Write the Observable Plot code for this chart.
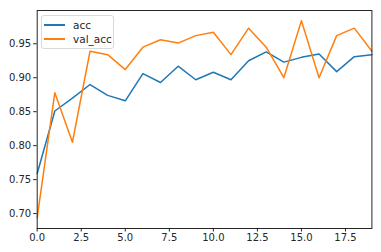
<!DOCTYPE html>
<html>
<head>
<meta charset="utf-8">
<script src="https://cdn.jsdelivr.net/npm/d3@7"></script>
<script src="https://cdn.jsdelivr.net/npm/@observablehq/plot@0.6"></script>
<style>
  html, body { margin: 0; padding: 0; background: #fff; }
  #wrap { position: relative; width: 381px; height: 252px; }
  #legend {
    position: absolute; left: 41px; top: 15px; width: 71px; height: 32px;
    border: 1px solid #d9d9d9; border-radius: 3px; background: rgba(255,255,255,0.8);
    font-family: "DejaVu Sans", sans-serif; font-size: 10.5px; color: #262626;
  }
  .item { position: absolute; left: 2px; height: 12px; display: flex; align-items: center; }
  .sw { display: inline-block; width: 21px; height: 2px; margin-right: 8px; }
</style>
</head>
<body>
<div id="wrap">
  <div id="chart"></div>
  <div id="legend"></div>
</div>
<script>
const epochs = [0,1,2,3,4,5,6,7,8,9,10,11,12,13,14,15,16,17,18,19];
const acc = [0.759,0.851,0.870,0.890,0.874,0.866,0.906,0.893,0.917,0.897,0.908,0.897,0.925,0.938,0.923,0.930,0.935,0.909,0.931,0.934];
const valAcc = [0.694,0.878,0.805,0.939,0.934,0.912,0.945,0.956,0.951,0.962,0.967,0.934,0.973,0.945,0.900,0.984,0.900,0.962,0.973,0.939];
const seriesNames = ["acc", "val_acc"];
const seriesColors = ["#1f77b4", "#ff7f0e"];
const xTicks = [0, 2.5, 5, 7.5, 10, 12.5, 15, 17.5];
const yTicks = [0.70, 0.75, 0.80, 0.85, 0.90, 0.95];

const rows = [];
epochs.forEach((e, i) => {
  rows.push({epoch: e, value: acc[i], series: seriesNames[0]});
});
epochs.forEach((e, i) => {
  rows.push({epoch: e, value: valAcc[i], series: seriesNames[1]});
});

const plot = Plot.plot({
  width: 381,
  height: 252,
  marginLeft: 36.7,
  marginRight: 9.6,
  marginTop: 10,
  marginBottom: 24,
  style: {fontFamily: "DejaVu Sans, sans-serif", fontSize: "10px", color: "#262626", background: "#fff"},
  x: {domain: [0, 19]},
  y: {domain: [0.678, 0.999]},
  color: {domain: seriesNames, range: seriesColors},
  marks: [
    Plot.line(rows, {x: "epoch", y: "value", stroke: "series", strokeWidth: 1.5, z: "series"}),
    Plot.frame({stroke: "#262626", strokeWidth: 1}),
    Plot.axisX({ticks: xTicks, tickFormat: d3.format(".1f"), tickSize: 3.5, tickPadding: 2, label: null, stroke: "#262626", fill: "#262626"}),
    Plot.axisY({ticks: yTicks, tickFormat: d3.format(".2f"), tickSize: 3.5, tickPadding: 2.5, label: null, stroke: "#262626", fill: "#262626"})
  ]
});
document.getElementById("chart").appendChild(plot);

const legend = document.getElementById("legend");
seriesNames.forEach((name, i) => {
  const item = document.createElement("div");
  item.className = "item";
  item.style.top = (3 + i * 14.3) + "px";
  const sw = document.createElement("span");
  sw.className = "sw";
  sw.style.background = seriesColors[i];
  const t = document.createElement("span");
  t.textContent = name;
  item.appendChild(sw);
  item.appendChild(t);
  legend.appendChild(item);
});
</script>
</body>
</html>
